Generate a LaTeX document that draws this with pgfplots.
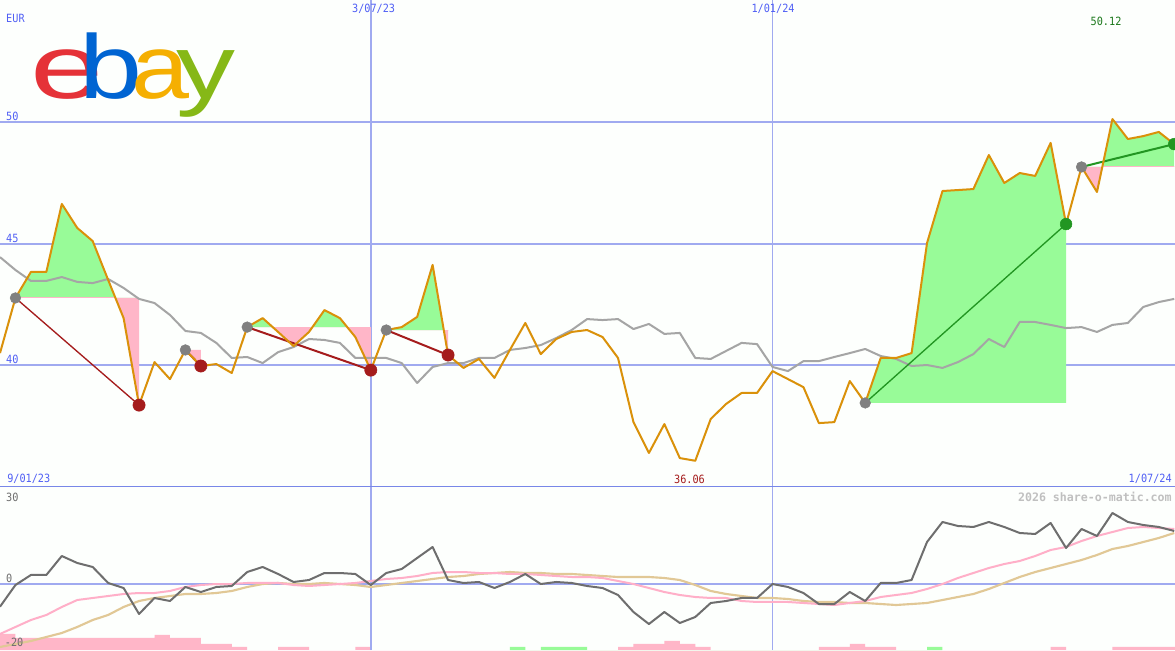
\documentclass[border=0pt]{standalone}
\usepackage{pgfplots}
\usepackage{pgfplotstable}
\pgfplotsset{compat=1.18}
\usepackage{fontspec}
\setmainfont{DejaVu Sans}
\newfontfamily\monofont{DejaVu Sans Mono}
\newfontfamily\logofont{Liberation Sans}

\definecolor{bg}{RGB}{253,255,253}
\definecolor{gridblue}{RGB}{160,170,240}
\definecolor{sepblue}{RGB}{120,135,232}
\definecolor{lblue}{RGB}{80,95,245}
\definecolor{orangeL}{RGB}{218,145,10}
\definecolor{maG}{RGB}{165,165,165}
\definecolor{fillG}{RGB}{152,251,152}
\definecolor{fillP}{RGB}{255,182,200}
\definecolor{darkred}{RGB}{165,28,28}
\definecolor{markG}{RGB}{128,128,128}
\definecolor{greenT}{RGB}{34,150,34}
\definecolor{oscG}{RGB}{110,110,110}
\definecolor{pinkL}{RGB}{255,175,200}
\definecolor{tanL}{RGB}{225,200,150}
\definecolor{lowtxt}{RGB}{110,110,110}
\definecolor{wm}{RGB}{192,192,192}
\definecolor{ebR}{RGB}{229,50,56}
\definecolor{ebB}{RGB}{0,100,210}
\definecolor{ebY}{RGB}{245,175,2}
\definecolor{ebG}{RGB}{134,184,23}

\pgfplotstableread{
i price ma
0 40.49 44.44
1 42.76 43.91
2 43.83 43.46
3 43.83 43.46
4 46.63 43.62
5 45.64 43.42
6 45.10 43.37
7 43.50 43.54
8 41.93 43.17
9 38.35 42.72
10 40.12 42.55
11 39.42 42.06
12 40.62 41.40
13 39.96 41.32
14 40.04 40.91
15 39.67 40.29
16 41.56 40.33
17 41.93 40.08
18 41.36 40.53
19 40.78 40.74
20 41.36 41.07
21 42.26 41.03
22 41.93 40.91
23 41.15 40.29
24 39.79 40.29
25 41.44 40.29
26 41.56 40.08
27 41.98 39.26
28 44.12 39.92
29 40.41 40.08
30 39.88 40.08
31 40.25 40.29
32 39.47 40.29
33 40.62 40.62
34 41.73 40.70
35 40.45 40.82
36 41.07 41.11
37 41.36 41.44
38 41.44 41.89
39 41.15 41.85
40 40.29 41.89
41 37.65 41.48
42 36.38 41.69
43 37.57 41.28
44 36.17 41.32
45 36.06 40.29
46 37.78 40.25
47 38.40 40.58
48 38.85 40.91
49 38.85 40.86
50 39.75 39.92
51 39.42 39.75
52 39.09 40.16
53 37.61 40.16
54 37.65 40.33
55 39.34 40.49
56 38.44 40.66
57 40.29 40.37
58 40.29 40.25
59 40.49 39.96
60 45.02 40.00
61 47.16 39.88
62 47.20 40.12
63 47.24 40.45
64 48.64 41.07
65 47.49 40.74
66 47.90 41.77
67 47.78 41.77
68 49.14 41.65
69 45.80 41.52
70 48.15 41.56
71 47.12 41.36
72 50.12 41.65
73 49.30 41.73
74 49.42 42.39
75 49.59 42.59
76 49.09 42.72
}\mainT

\pgfplotstableread{
i osc pk tan
0 -7.25 -15.78 -19.84
1 -0.47 -13.59 -18.91
2 2.66 -11.41 -17.97
3 2.66 -9.84 -16.72
4 8.59 -7.34 -15.47
5 6.41 -5.16 -13.59
6 5.16 -4.53 -11.41
7 0.16 -3.91 -9.84
8 -1.41 -3.28 -7.34
9 -9.53 -2.97 -5.47
10 -4.53 -2.97 -4.53
11 -5.47 -2.34 -3.91
12 -1.09 -1.09 -3.28
13 -2.66 -0.47 -3.28
14 -1.09 -0.16 -2.97
15 -0.78 -0.16 -2.34
16 3.59 0.16 -1.09
17 5.16 0.16 -0.16
18 2.97 0.16 0.16
19 0.47 -0.47 -0.16
20 1.09 -0.78 -0.16
21 3.28 -0.47 0.16
22 3.28 -0.16 -0.16
23 2.97 0.16 -0.47
24 -0.47 0.78 -1.09
25 3.28 1.41 -0.47
26 4.53 1.72 0.16
27 7.97 2.34 0.78
28 11.41 3.28 1.41
29 1.09 3.59 2.03
30 0.16 3.59 2.34
31 0.47 3.28 2.97
32 -1.41 3.28 3.28
33 0.47 2.97 3.59
34 2.97 2.97 3.28
35 -0.16 2.66 3.28
36 0.47 2.34 2.97
37 0.16 2.03 2.97
38 -0.78 2.03 2.66
39 -1.41 1.72 2.34
40 -3.59 0.78 2.03
41 -8.91 -0.16 2.03
42 -12.66 -1.41 2.03
43 -8.91 -2.66 1.72
44 -12.34 -3.59 1.09
45 -10.47 -4.22 -0.47
46 -6.09 -4.53 -2.34
47 -5.47 -4.53 -3.28
48 -4.53 -5.47 -3.91
49 -4.53 -5.78 -4.53
50 -0.16 -5.78 -4.53
51 -1.09 -5.78 -4.84
52 -2.97 -6.09 -5.47
53 -6.41 -6.41 -5.78
54 -6.41 -6.72 -5.78
55 -2.66 -6.09 -6.09
56 -5.47 -5.47 -6.09
57 0.16 -4.22 -6.41
58 0.16 -3.59 -6.72
59 1.09 -2.97 -6.41
60 12.97 -1.72 -6.09
61 19.22 -0.16 -5.16
62 17.97 1.72 -4.22
63 17.66 3.28 -3.28
64 19.22 4.84 -1.72
65 17.66 6.09 0.16
66 15.78 7.03 2.03
67 15.47 8.59 3.59
68 18.91 10.47 4.84
69 11.09 11.41 6.09
70 17.03 13.28 7.34
71 14.84 14.84 8.91
72 22.03 16.09 10.78
73 19.22 17.34 11.72
74 18.28 17.66 12.97
75 17.66 17.34 14.22
76 16.41 17.03 15.78
}\lowT

\pgfplotsset{
  panel/.style={
    scale only axis, width=881.25pt, xmin=0, xmax=76.05,
    axis line style={draw=none}, tick style={draw=none},
    xticklabels={}, yticklabels={},
    extra x tick labels={}, extra y tick labels={},
  },
}
\newcommand{\lbl}{\monofont\fontsize{8.5}{10}\selectfont}
\tikzset{lb/.style={inner sep=0pt, xscale=0.9}}

\begin{document}
\begin{tikzpicture}
\useasboundingbox (0,0) rectangle (881.25pt,487.5pt);

% ---------------- main panel ----------------
\begin{axis}[panel, at={(0pt,121.875pt)}, anchor=south west,
  height=365.625pt, ymin=34.96, ymax=55.02,
  axis background/.style={fill=bg},
  xtick={24}, ytick={40,45,50}, grid=major,
  major grid style={gridblue, line width=1.5pt},
  extra x ticks={50}, extra x tick style={major grid style={gridblue, line width=0.75pt}},
  extra y ticks={34.96}, extra y tick style={major grid style={sepblue, line width=1.5pt}},
]
% trade 1
\begin{scope}
\clip (axis cs:1,42.76) rectangle (axis cs:9,60);
\addplot[fill=fillG, draw=none, forget plot] coordinates {(1,42.76)(2,43.83)(3,43.83)(4,46.63)(5,45.64)(6,45.10)(7,43.50)(8,41.93)(9,38.35)(9,42.76)};
\end{scope}
\begin{scope}
\clip (axis cs:1,30) rectangle (axis cs:9,42.76);
\addplot[fill=fillP, draw=none, forget plot] coordinates {(1,42.76)(2,43.83)(3,43.83)(4,46.63)(5,45.64)(6,45.10)(7,43.50)(8,41.93)(9,38.35)(9,42.76)};
\end{scope}
% trade 2
\addplot[fill=fillP, draw=none, forget plot] coordinates {(12,40.62)(13,39.96)(13,40.62)};
% trade 3
\begin{scope}
\clip (axis cs:16,41.56) rectangle (axis cs:24,60);
\addplot[fill=fillG, draw=none, forget plot] coordinates {(16,41.56)(17,41.93)(18,41.36)(19,40.78)(20,41.36)(21,42.26)(22,41.93)(23,41.15)(24,39.79)(24,41.56)};
\end{scope}
\begin{scope}
\clip (axis cs:16,30) rectangle (axis cs:24,41.56);
\addplot[fill=fillP, draw=none, forget plot] coordinates {(16,41.56)(17,41.93)(18,41.36)(19,40.78)(20,41.36)(21,42.26)(22,41.93)(23,41.15)(24,39.79)(24,41.56)};
\end{scope}
% trade 4
\begin{scope}
\clip (axis cs:25,41.44) rectangle (axis cs:29,60);
\addplot[fill=fillG, draw=none, forget plot] coordinates {(25,41.44)(26,41.56)(27,41.98)(28,44.12)(29,40.41)(29,41.44)};
\end{scope}
\begin{scope}
\clip (axis cs:25,30) rectangle (axis cs:29,41.44);
\addplot[fill=fillP, draw=none, forget plot] coordinates {(25,41.44)(26,41.56)(27,41.98)(28,44.12)(29,40.41)(29,41.44)};
\end{scope}
% trade 5
\addplot[fill=fillG, draw=none, forget plot] coordinates {(56,38.44)(57,40.29)(58,40.29)(59,40.49)(60,45.02)(61,47.16)(62,47.20)(63,47.24)(64,48.64)(65,47.49)(66,47.90)(67,47.78)(68,49.14)(69,45.80)(69,38.44)};
% trade 6
\begin{scope}
\clip (axis cs:70,48.15) rectangle (axis cs:77,60);
\addplot[fill=fillG, draw=none, forget plot] coordinates {(70,48.15)(71,47.12)(72,50.12)(73,49.30)(74,49.42)(75,49.59)(76,49.09)(76,48.15)};
\end{scope}
\begin{scope}
\clip (axis cs:70,30) rectangle (axis cs:77,48.15);
\addplot[fill=fillP, draw=none, forget plot] coordinates {(70,48.15)(71,47.12)(72,50.12)(73,49.30)(74,49.42)(75,49.59)(76,49.09)(76,48.15)};
\end{scope}

% moving average
\addplot[maG, line width=1.5pt, line join=round] table[x=i, y=ma] {\mainT};

% trade lines
\addplot[darkred, line width=1pt] coordinates {(1,42.76)(9,38.35)};
\addplot[darkred, line width=1.5pt] coordinates {(12,40.62)(13,39.96)};
\addplot[darkred, line width=1.5pt] coordinates {(16,41.56)(24,39.79)};
\addplot[darkred, line width=1.5pt] coordinates {(25,41.44)(29,40.41)};
\addplot[greenT, line width=1pt] coordinates {(56,38.44)(69,45.80)};
\addplot[greenT, line width=1.5pt] coordinates {(70,48.15)(76,49.09)};

% markers
\addplot[only marks, mark=*, mark size=4pt, mark options={fill=markG, draw=markG}] coordinates {(1,42.76)(12,40.62)(16,41.56)(25,41.44)(56,38.44)(70,48.15)};
\addplot[only marks, mark=*, mark size=4.6pt, mark options={fill=darkred, draw=darkred}] coordinates {(9,38.35)(13,39.96)(24,39.79)(29,40.41)};
\addplot[only marks, mark=*, mark size=4.4pt, mark options={fill=greenT, draw=greenT}] coordinates {(69,45.80)(76,49.09)};

% price
\addplot[orangeL, line width=1.5pt, line join=round] table[x=i, y=price] {\mainT};

% texts
\node[lb, anchor=west, lblue] at (rel axis cs:0.0051,0.963) {\lbl EUR};
\node[lb, lblue] at (rel axis cs:0.3180,0.9815) {\lbl 3/07/23};
\node[lb, lblue] at (rel axis cs:0.6579,0.9815) {\lbl 1/01/24};
\node[lb, greenT!80!black] at (rel axis cs:0.9413,0.9569) {\lbl 50.12};
\node[lb, anchor=west, lblue] at (rel axis cs:0.005,0.762) {\lbl 50};
\node[lb, anchor=west, lblue] at (rel axis cs:0.005,0.5118) {\lbl 45};
\node[lb, anchor=west, lblue] at (rel axis cs:0.005,0.2626) {\lbl 40};
\node[lb, anchor=west, lblue] at (rel axis cs:0.006,0.0174) {\lbl 9/01/23};
\node[lb, darkred] at (rel axis cs:0.5868,0.0174) {\lbl 36.06};
\node[lb, anchor=east, lblue] at (rel axis cs:0.9974,0.0174) {\lbl 1/07/24};
% logo
\node[anchor=base, ebR, inner sep=0pt, xscale=1.45] at (rel axis cs:0.0574,0.797) {\logofont\fontsize{68}{68}\selectfont e};
\node[anchor=base, ebB, inner sep=0pt, xscale=1.25] at (rel axis cs:0.0945,0.797) {\logofont\fontsize{68}{68}\selectfont b};
\node[anchor=base, ebY, inner sep=0pt, xscale=1.15] at (rel axis cs:0.1370,0.797) {\logofont\fontsize{68}{68}\selectfont a};
\node[anchor=base, ebG, inner sep=0pt, xscale=1.3] at (rel axis cs:0.1757,0.797) {\logofont\fontsize{68}{68}\selectfont y};
\end{axis}

% ---------------- lower panel: bars ----------------
\begin{axis}[panel, at={(0pt,0pt)}, anchor=south west,
  height=121.875pt, ymin=0, ymax=162.5,
  axis background/.style={fill=bg}, xtick=\empty, ytick=\empty]
\addplot[ybar interval, fill=fillP, draw=none] coordinates {(0,16)(1,12)(10,15)(11,12)(13,6)(15,3)(16,0)(18,3)(20,0)(23,3)(24,0)(40,3)(41,6)(43,9)(44,6)(45,3)(46,0)(53,3)(55,6)(56,3)(58,0)(68,3)(69,0)(72,3)(76.1,3)};
\addplot[ybar interval, fill=fillG, draw=none] coordinates {(33,3)(34,0)(35,3)(38,0)(60,3)(61,0)};
\end{axis}

% ---------------- lower panel: lines ----------------
\begin{axis}[panel, at={(0pt,0pt)}, anchor=south west,
  height=121.875pt, ymin=-20.78, ymax=30,
  xtick={24}, ytick={0}, grid=major,
  major grid style={gridblue, line width=1.5pt},
  extra x ticks={50}, extra x tick style={major grid style={gridblue, line width=0.75pt}},
]
\addplot[tanL, line width=1.6pt, line join=round] table[x=i, y=tan] {\lowT};
\addplot[pinkL, line width=1.5pt, line join=round] table[x=i, y=pk] {\lowT};
\addplot[oscG, line width=1.5pt, line join=round] table[x=i, y=osc] {\lowT};
\node[lb, anchor=west, lowtxt] at (rel axis cs:0.005,0.9415) {\lbl 30};
\node[lb, anchor=west, lowtxt] at (rel axis cs:0.005,0.443) {\lbl 0};
\node[lb, anchor=west, lowtxt] at (rel axis cs:0.004,0.046) {\lbl -20};
\node[anchor=east, wm, inner sep=0pt] at (rel axis cs:0.9974,0.9446) {\monofont\bfseries\fontsize{8.7}{10}\selectfont 2026 share-o-matic.com};
\end{axis}
\end{tikzpicture}
\end{document}
